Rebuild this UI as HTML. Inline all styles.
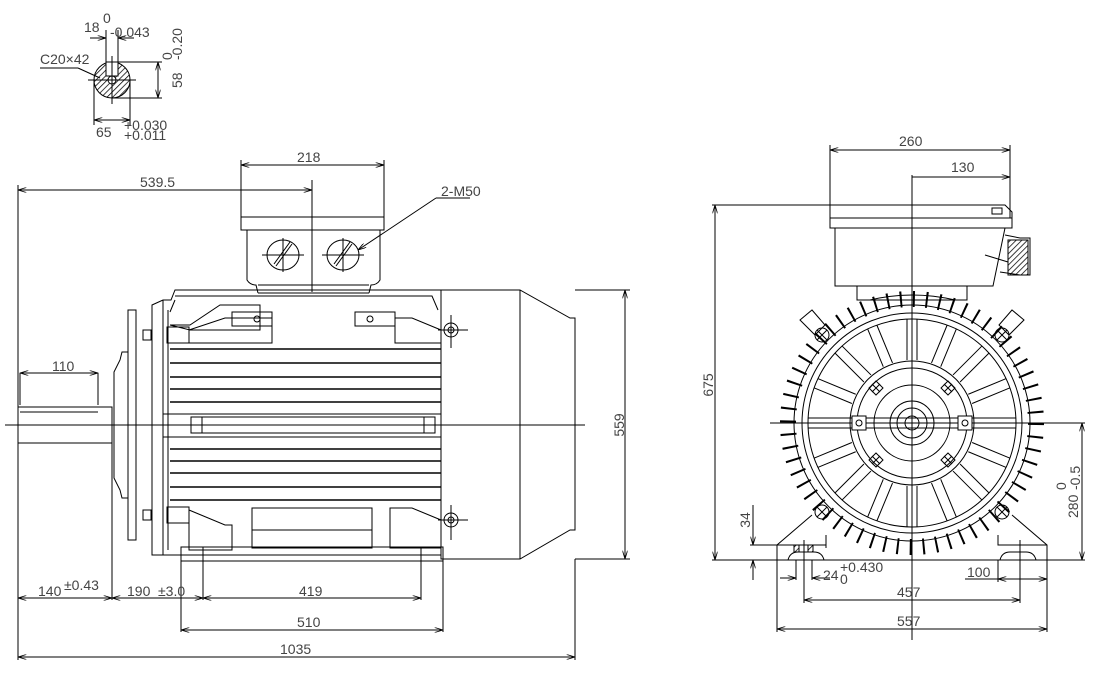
<!DOCTYPE html>
<html><head><meta charset="utf-8"><style>
html,body{margin:0;padding:0;background:#fff;}
svg{display:block;}
text{font-family:"Liberation Sans",sans-serif;fill:#444;font-size:14px;}
</style></head><body>
<svg width="1093" height="675" viewBox="0 0 1093 675" xmlns="http://www.w3.org/2000/svg">
<defs>
<marker id="a" viewBox="0 0 10 6" refX="10" refY="3" markerWidth="9" markerHeight="5" orient="auto-start-reverse"><path d="M0,0L10,3L0,6" fill="none" stroke="#000"/></marker>
<pattern id="h" width="4" height="4" patternUnits="userSpaceOnUse" patternTransform="rotate(45)"><line x1="0" y1="0" x2="0" y2="4" stroke="#000" stroke-width="1.5"/></pattern>
<g id="bl" stroke="#000" fill="none"><circle cx="0" cy="0" r="7"/><path d="M-5,-5L5,5M-5,5L5,-5"/></g>
<g id="bs" stroke="#000" fill="none"><path d="M0,-7L7,0L0,7L-7,0Z"/><path d="M-4,-4L4,4M-4,4L4,-4"/></g>
<g id="sp" stroke="#000" fill="none"><path d="M907,360V319M917,360V319"/></g>
</defs>
<g stroke="#000" stroke-width="1" fill="none">
<!-- key section top-left -->
<circle cx="112" cy="80" r="18" fill="url(#h)"/>
<rect x="106" y="62" width="12" height="14" fill="#fff"/>
<circle cx="112" cy="80" r="4" fill="#fff"/>
<line x1="106" y1="30" x2="106" y2="62"/><line x1="118" y1="30" x2="118" y2="62"/>
<line x1="90" y1="38" x2="106" y2="38" marker-end="url(#a)"/><line x1="134" y1="38" x2="118" y2="38" marker-end="url(#a)"/>
<line x1="112" y1="62" x2="162" y2="62"/><line x1="112" y1="98" x2="162" y2="98"/>
<line x1="158" y1="62" x2="158" y2="98" marker-start="url(#a)" marker-end="url(#a)"/>
<line x1="94" y1="80" x2="94" y2="125"/><line x1="130" y1="80" x2="130" y2="125"/>
<line x1="94" y1="120" x2="130" y2="120" marker-start="url(#a)" marker-end="url(#a)"/>
<line x1="40" y1="68" x2="78" y2="68"/><line x1="78" y1="68" x2="100" y2="78"/>
<line x1="88" y1="80" x2="136" y2="80"/><line x1="112" y1="56" x2="112" y2="104"/>

<!-- LEFT VIEW -->
<line x1="5" y1="425" x2="585" y2="425"/>
<line x1="241" y1="160" x2="241" y2="218"/><line x1="384" y1="160" x2="384" y2="218"/>
<line x1="241" y1="165" x2="384" y2="165" marker-start="url(#a)" marker-end="url(#a)"/>
<line x1="18" y1="185" x2="18" y2="660"/>
<line x1="18" y1="190" x2="312" y2="190" marker-start="url(#a)" marker-end="url(#a)"/>
<line x1="312" y1="180" x2="312" y2="292"/>
<rect x="241" y="217" width="143" height="13"/>
<path d="M247,230V280Q250,285 256,285L258,293M380,230V280Q377,285 371,285L369,293M258,293H369"/>
<path d="M258,285H369"/>
<ellipse cx="283" cy="255" rx="16" ry="15"/><ellipse cx="343" cy="255" rx="16" ry="15"/>
<line x1="276" y1="266" x2="292" y2="244"/><line x1="274" y1="264" x2="290" y2="242"/>
<line x1="336" y1="266" x2="352" y2="244"/><line x1="334" y1="264" x2="350" y2="242"/>
<line x1="262" y1="255" x2="304" y2="255"/><line x1="283" y1="238" x2="283" y2="272"/>
<line x1="322" y1="255" x2="364" y2="255"/><line x1="343" y1="238" x2="343" y2="272"/>
<line x1="436" y1="198" x2="470" y2="198"/><line x1="436" y1="198" x2="358" y2="250" marker-end="url(#a)"/>
<path d="M152,555V305L163,300H171L175,290H441V555Z"/>
<path d="M163,300V555M168,310V550"/>
<path d="M175,296H432L438,310"/>
<path d="M170,312L175,300M170,325H190L220,305H260V330H190L170,325"/>
<rect x="232" y="312" width="40" height="14"/><rect x="355" y="312" width="40" height="14"/>
<circle cx="257" cy="319" r="3"/><circle cx="370" cy="319" r="3"/>
<rect x="167" y="327" width="22" height="16"/><rect x="167" y="507" width="22" height="16"/>
<rect x="143" y="330" width="8" height="10"/><rect x="143" y="510" width="8" height="10"/>
<path d="M189,330L225,318H272V343H189ZM395,318H412L441,330V343H395Z"/>
<path d="M189,510L225,525H232V550H189ZM390,508H412L441,520V548H390Z"/>
<rect x="252" y="508" width="120" height="40"/><line x1="252" y1="530" x2="372" y2="530"/>
<g stroke-width="1.6">
<line x1="170" y1="349" x2="441" y2="349"/><line x1="170" y1="363" x2="441" y2="363"/>
<line x1="170" y1="377" x2="441" y2="377"/><line x1="170" y1="389" x2="441" y2="389"/>
<line x1="170" y1="402" x2="441" y2="402"/>
<line x1="170" y1="449" x2="441" y2="449"/><line x1="170" y1="461" x2="441" y2="461"/>
<line x1="170" y1="473" x2="441" y2="473"/><line x1="170" y1="487" x2="441" y2="487"/>
<line x1="170" y1="500" x2="441" y2="500"/>
</g>
<line x1="163" y1="414" x2="441" y2="414"/><line x1="163" y1="437" x2="441" y2="437"/>
<rect x="191" y="417" width="244" height="16"/><line x1="202" y1="417" x2="202" y2="433"/><line x1="424" y1="417" x2="424" y2="433"/>
<rect x="128" y="310" width="8" height="230"/>
<path d="M128,352H122L120,360L114,372V478L120,490L122,498H128"/>
<rect x="18" y="407" width="94" height="36"/>
<line x1="20" y1="412" x2="98" y2="412"/>
<line x1="20" y1="373" x2="20" y2="405"/><line x1="98" y1="373" x2="98" y2="405"/>
<line x1="20" y1="373" x2="98" y2="373" marker-start="url(#a)" marker-end="url(#a)"/>
<path d="M441,290H520L570,318H575V530H570L520,559H441Z"/>
<line x1="520" y1="290" x2="520" y2="559"/>
<line x1="575" y1="290" x2="630" y2="290"/><line x1="575" y1="559" x2="630" y2="559"/>
<line x1="625" y1="290" x2="625" y2="559" marker-start="url(#a)" marker-end="url(#a)"/>
<circle cx="451" cy="330" r="7"/><circle cx="451" cy="330" r="3"/><line x1="438" y1="330" x2="468" y2="330"/><line x1="451" y1="315" x2="451" y2="348"/>
<circle cx="451" cy="520" r="7"/><circle cx="451" cy="520" r="3"/><line x1="438" y1="520" x2="468" y2="520"/><line x1="451" y1="505" x2="451" y2="540"/>
<rect x="181" y="547" width="262" height="14"/>
<line x1="203" y1="547" x2="203" y2="600"/><line x1="421" y1="547" x2="421" y2="600"/>
<line x1="112" y1="443" x2="112" y2="600"/>
<line x1="181" y1="561" x2="181" y2="632"/><line x1="443" y1="561" x2="443" y2="632"/>
<line x1="575" y1="559" x2="575" y2="660"/>
<line x1="18" y1="598" x2="112" y2="598" marker-start="url(#a)" marker-end="url(#a)"/>
<line x1="112" y1="598" x2="203" y2="598" marker-start="url(#a)" marker-end="url(#a)"/>
<line x1="203" y1="598" x2="421" y2="598" marker-start="url(#a)" marker-end="url(#a)"/>
<line x1="181" y1="630" x2="443" y2="630" marker-start="url(#a)" marker-end="url(#a)"/>
<line x1="18" y1="657" x2="575" y2="657" marker-start="url(#a)" marker-end="url(#a)"/>

<!-- RIGHT VIEW -->
<line x1="830" y1="145" x2="830" y2="205"/><line x1="1010" y1="145" x2="1010" y2="218"/>
<line x1="830" y1="150" x2="1010" y2="150" marker-start="url(#a)" marker-end="url(#a)"/>
<line x1="912" y1="177" x2="1010" y2="177" marker-end="url(#a)"/>
<line x1="912" y1="175" x2="912" y2="640"/>
<path d="M830,205H1005L1012,212V228H830Z"/><line x1="830" y1="218" x2="1012" y2="218"/>
<rect x="992" y="208" width="10" height="6"/>
<path d="M835,228V286H993L1005,228"/>
<path d="M1005,235L1020,238H1030V275H1020L1000,272" />
<rect x="1008" y="240" width="20" height="35" fill="url(#h)"/>
<line x1="985" y1="255" x2="1008" y2="262"/>
<line x1="712" y1="205" x2="830" y2="205"/>
<line x1="715" y1="205" x2="715" y2="560" marker-start="url(#a)" marker-end="url(#a)"/>
<line x1="712" y1="560" x2="1085" y2="560"/>
<path d="M857,286V300H967V286"/><path d="M870,300Q912,290 955,300"/>
<circle cx="912" cy="423" r="124" stroke-width="16" stroke-dasharray="2 11"/>
<circle cx="912" cy="423" r="118"/>
<circle cx="912" cy="423" r="110"/>
<circle cx="912" cy="423" r="104"/>
<circle cx="912" cy="423" r="62"/>
<circle cx="912" cy="423" r="55"/>
<circle cx="912" cy="423" r="38"/>
<circle cx="912" cy="423" r="22"/>
<circle cx="912" cy="423" r="15"/>
<circle cx="912" cy="423" r="7"/>
<use href="#sp"/>
<use href="#sp" transform="rotate(22.5 912 423)"/><use href="#sp" transform="rotate(45 912 423)"/><use href="#sp" transform="rotate(67.5 912 423)"/>
<use href="#sp" transform="rotate(112.5 912 423)"/><use href="#sp" transform="rotate(135 912 423)"/><use href="#sp" transform="rotate(157.5 912 423)"/>
<use href="#sp" transform="rotate(180 912 423)"/><use href="#sp" transform="rotate(202.5 912 423)"/><use href="#sp" transform="rotate(225 912 423)"/>
<use href="#sp" transform="rotate(247.5 912 423)"/><use href="#sp" transform="rotate(292.5 912 423)"/><use href="#sp" transform="rotate(315 912 423)"/>
<use href="#sp" transform="rotate(337.5 912 423)"/>
<line x1="808" y1="418" x2="1016" y2="418"/><line x1="808" y1="428" x2="1016" y2="428"/>
<line x1="770" y1="423" x2="1085" y2="423"/>
<rect x="852" y="416" width="14" height="14" fill="#fff"/><rect x="958" y="416" width="14" height="14" fill="#fff"/>
<circle cx="859" cy="423" r="3"/><circle cx="965" cy="423" r="3"/>
<use href="#bl" x="822" y="335"/><use href="#bl" x="1002" y="335"/><use href="#bl" x="822" y="512"/><use href="#bl" x="1002" y="512"/>
<use href="#bs" x="876" y="388"/><use href="#bs" x="948" y="388"/><use href="#bs" x="876" y="460"/><use href="#bs" x="948" y="460"/>
<path d="M800,320L812,310L825,325L815,335Z"/><path d="M1024,320L1012,310L999,325L1009,335Z"/>
<path d="M777,560V545L812,515M777,545H826L826,535M826,545V548"/>
<path d="M1047,560V545L1012,515M1047,545H998V535"/>
<path d="M788,560Q790,552 798,552H814Q822,552 824,560"/><path d="M1000,560Q1002,552 1010,552H1026Q1034,552 1036,560"/>
<rect x="794" y="545" width="5" height="7" fill="url(#h)"/><rect x="808" y="545" width="5" height="7" fill="url(#h)"/>
<line x1="804" y1="540" x2="804" y2="603"/><line x1="1020" y1="540" x2="1020" y2="603"/>
<line x1="777" y1="560" x2="777" y2="632"/><line x1="1047" y1="560" x2="1047" y2="632"/>
<line x1="998" y1="560" x2="998" y2="582"/>
<line x1="750" y1="545" x2="777" y2="545"/>
<line x1="753" y1="505" x2="753" y2="545" marker-end="url(#a)"/><line x1="753" y1="580" x2="753" y2="560" marker-end="url(#a)"/>
<line x1="780" y1="578" x2="796" y2="578" marker-end="url(#a)"/><line x1="830" y1="578" x2="812" y2="578" marker-end="url(#a)"/>
<line x1="796" y1="560" x2="796" y2="580"/><line x1="812" y1="560" x2="812" y2="580"/>
<line x1="965" y1="579" x2="998" y2="579"/><line x1="998" y1="579" x2="1047" y2="579" marker-start="url(#a)" marker-end="url(#a)"/>
<line x1="804" y1="600" x2="1020" y2="600" marker-start="url(#a)" marker-end="url(#a)"/>
<line x1="777" y1="629" x2="1047" y2="629" marker-start="url(#a)" marker-end="url(#a)"/>
<line x1="1082" y1="423" x2="1082" y2="560" marker-start="url(#a)" marker-end="url(#a)"/>
</g>
<text x="84" y="32" font-size="13">18</text><text x="103" y="23" font-size="9">0</text><text x="110" y="37" font-size="9">-0.043</text>
<text x="40" y="64" font-size="13">C20×42</text>
<text transform="translate(182,88) rotate(-90)" font-size="13">58</text>
<text transform="translate(172,60) rotate(-90)" font-size="9">0</text>
<text transform="translate(182,60) rotate(-90)" font-size="9">-0.20</text>
<text x="96" y="137" font-size="13">65</text><text x="124" y="130" font-size="9">+0.030</text><text x="124" y="140" font-size="9">+0.011</text>
<text x="297" y="162">218</text>
<text x="140" y="187">539.5</text>
<text x="441" y="196">2-M50</text>
<text x="52" y="371" font-size="12">110</text>
<text transform="translate(624,425) rotate(-90)" text-anchor="middle">559</text>
<text x="38" y="596">140</text><text x="64" y="590" font-size="10">±0.43</text>
<text x="127" y="596">190</text><text x="158" y="596" font-size="10">±3.0</text>
<text x="299" y="596">419</text>
<text x="297" y="627">510</text>
<text x="280" y="654">1035</text>
<text x="899" y="146">260</text>
<text x="951" y="172">130</text>
<text transform="translate(713,385) rotate(-90)" text-anchor="middle">675</text>
<text transform="translate(750,520) rotate(-90)" text-anchor="middle">34</text>
<text x="823" y="580">24</text><text x="840" y="572" font-size="10">+0.430</text><text x="840" y="584" font-size="10">0</text>
<text x="967" y="577">100</text>
<text x="897" y="597">457</text>
<text x="897" y="626">557</text>
<text transform="translate(1078,518) rotate(-90)">280</text>
<text transform="translate(1066,490) rotate(-90)" font-size="10">0</text>
<text transform="translate(1080,490) rotate(-90)" font-size="10">-0.5</text>
</svg>
</body></html>
